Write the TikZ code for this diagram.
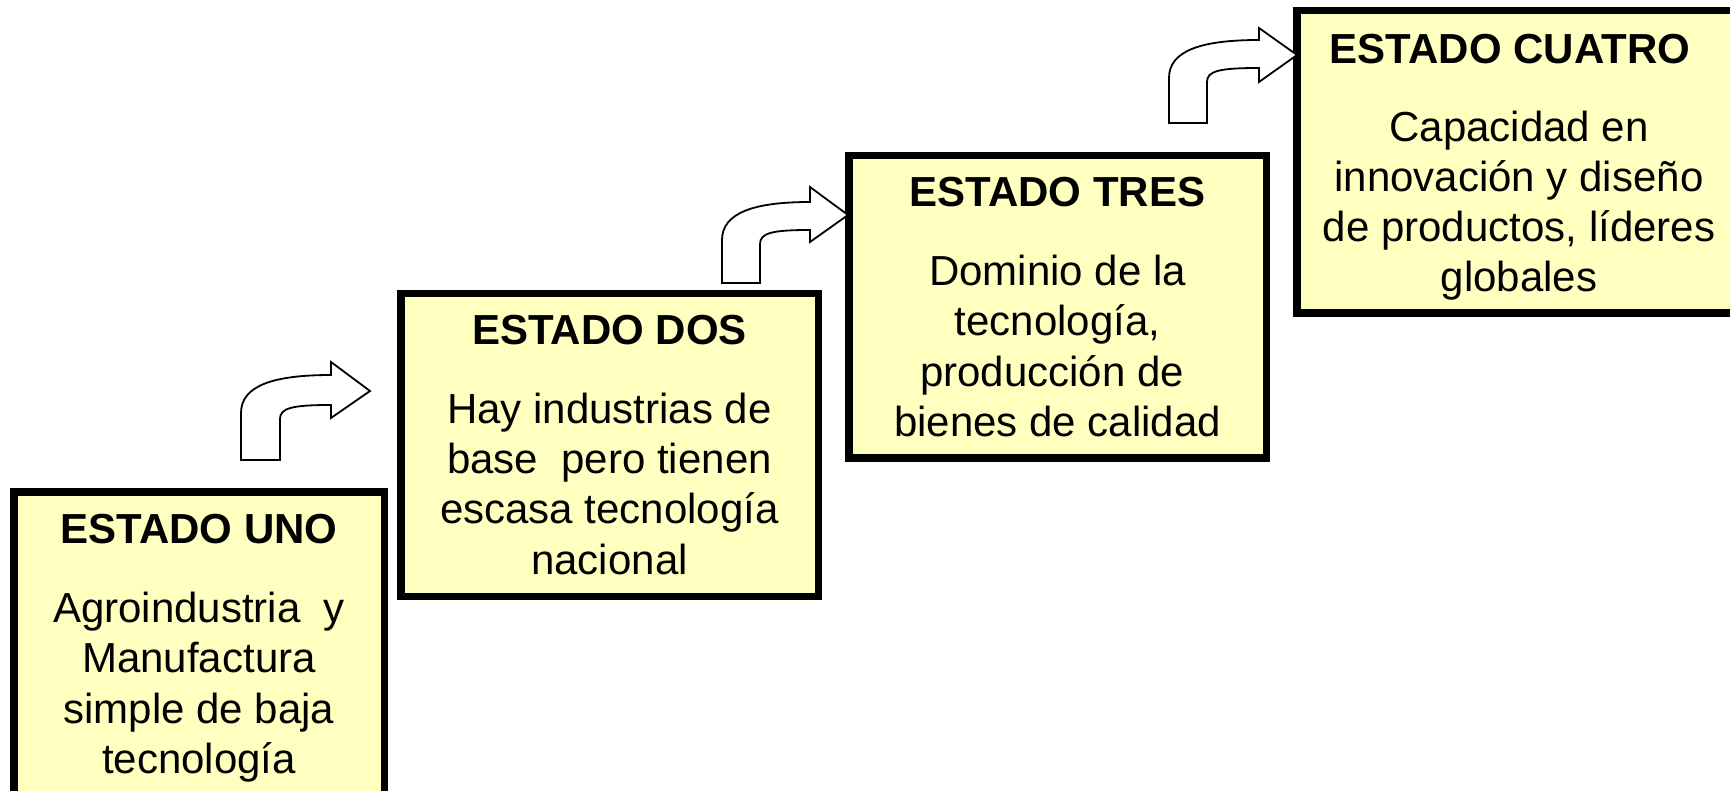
\documentclass[tikz,border=0pt]{standalone}
\usepackage{fontspec}
\setmainfont{Liberation Sans}
\definecolor{boxfill}{RGB}{255,255,192}
\newcommand\bentarr[1]{% #1 = L/R/B/H/T/I/HT/HB/X/Y
  \pgfkeys{/bent/.cd,#1}%
  \draw[arrowshape]
    (\bL,\bB) -- (\bL,\bT+38) .. controls (\bL,\bT+10) and (\bL+34,\bT) .. (\bH,\bT)
    -- (\bH,\bHT) -- (\bX,\bY) -- (\bH,\bHB) -- (\bH,\bI)
    .. controls (\bR+12,\bI) and (\bR,\bI+3) .. (\bR,\bI+14) -- (\bR,\bB) -- cycle;}
\pgfkeys{/bent/.cd,
  L/.store in=\bL, R/.store in=\bR, B/.store in=\bB, H/.store in=\bH,
  T/.store in=\bT, I/.store in=\bI, HT/.store in=\bHT, HB/.store in=\bHB,
  X/.store in=\bX, Y/.store in=\bY}
\tikzset{
  box/.style={draw=black, line width=7.5pt, fill=boxfill, rectangle, inner sep=0pt},
  titletext/.style={anchor=base, inner sep=0pt, font={\fontsize{42}{50.3}\selectfont\bfseries}},
  bodytext/.style={anchor=base, inner sep=0pt, align=center, font={\fontsize{42}{50.3}\selectfont}},
  arrowshape/.style={draw=black, line width=1.8pt, fill=white, line join=miter}
}
\begin{document}
\begin{tikzpicture}[x=1pt, y=-1pt]
\useasboundingbox (0,0) rectangle (1730,791);
\clip (0,0) rectangle (1730,791);
\fill[white] (0,0) rectangle (1730,791);
% boxes
\node[box, minimum width=370.5pt, minimum height=330pt] (b1) at (199,656.75) {};
\node[box, minimum width=417.5pt, minimum height=302.5pt] (b2) at (609.5,445) {};
\node[box, minimum width=417.5pt, minimum height=302.5pt] (b3) at (1057.5,307) {};
\node[box, minimum width=463.25pt, minimum height=302.5pt] (b4) at (1528.4,162) {};
% texts (body anchors are at the baseline of the last line)
\node[titletext] (t1) at (199,543) {ESTADO UNO};
\node[bodytext] (d1) at (199,773.5) {Agroindustria\ \ y\\Manufactura\\simple de baja\\tecnología};
\node[titletext] (t2) at (609.5,345) {ESTADO DOS};
\node[bodytext] (d2) at (609.5,574.2) {Hay industrias de\\base\ \ pero tienen\\escasa tecnología\\nacional};
\node[titletext] (t3) at (1057.5,207) {ESTADO TRES};
\node[bodytext] (d3) at (1057.5,436.5) {Dominio de la\\tecnología,\\producción de\kern11pt\\bienes de calidad};
\node[titletext] (t4) at (1510,64) {ESTADO CUATRO};
\node[bodytext] (d4) at (1519,292) {Capacidad en\\innovación y diseño\\de productos, líderes\\globales};
% bent arrows
\bentarr{L=241,R=280,B=460,H=331,T=375,I=405,HT=362,HB=418,X=370,Y=391}
\bentarr{L=722,R=760,B=283,H=810,T=202,I=230,HT=187,HB=242,X=848,Y=215}
\bentarr{L=1169,R=1207,B=123,H=1259,T=40,I=68,HT=28,HB=82,X=1297,Y=55}
\end{tikzpicture}
\end{document}
